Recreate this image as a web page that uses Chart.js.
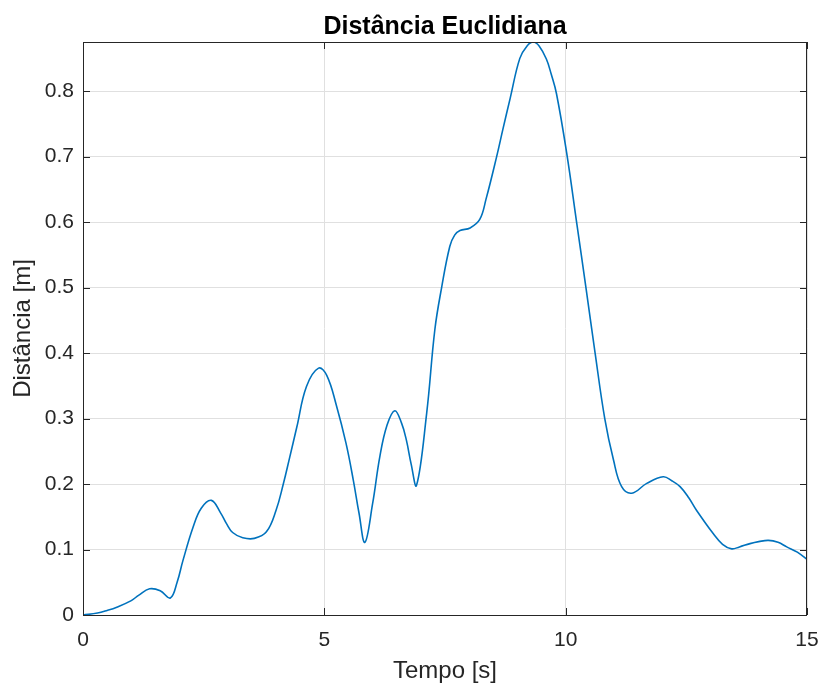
<!DOCTYPE html>
<html>
<head>
<meta charset="utf-8">
<script src="https://cdn.jsdelivr.net/npm/chart.js@4.4.1/dist/chart.umd.min.js"></script>
<style>
  html, body { margin: 0; padding: 0; background: #fff; }
  #wrap { width: 821px; height: 689px; }
</style>
</head>
<body>
<div id="wrap"><canvas id="dist_chart" width="821" height="689"></canvas></div>
<script>
// time samples [s]
const tempo = [0, 0.3, 0.5, 0.7, 1.0, 1.15, 1.38, 1.6, 1.81, 1.95, 2.07, 2.28, 2.45, 2.66, 2.85,
    2.97, 3.1, 3.31, 3.55, 3.8, 4.0, 4.15, 4.28, 4.43, 4.63, 4.88, 5.05, 5.25, 5.45, 5.6,
    5.72, 5.84, 6.0, 6.15, 6.3, 6.46, 6.6, 6.7, 6.8, 6.91, 7.12, 7.29, 7.43, 7.6, 7.7,
    7.81, 8.02, 8.22, 8.35, 8.57, 8.7, 8.85, 9.05, 9.2, 9.33, 9.45, 9.6, 9.7, 9.81, 10.02,
    10.23, 10.42, 10.61, 10.81, 10.99, 11.16, 11.37, 11.68, 12.02, 12.2, 12.37, 12.55, 12.71, 13.06, 13.25,
    13.44, 13.6, 13.82, 14.0, 14.2, 14.4, 14.58, 14.8, 15];
// euclidean distance [m]
const distancia = [0, 0.003, 0.007, 0.012, 0.022, 0.030, 0.040, 0.037, 0.026, 0.05, 0.083, 0.134, 0.163, 0.175, 0.156,
    0.140, 0.126, 0.118, 0.117, 0.127, 0.16, 0.20, 0.24, 0.287, 0.349, 0.377, 0.366, 0.320, 0.262, 0.206,
    0.155, 0.111, 0.17, 0.242, 0.29, 0.312, 0.293, 0.267, 0.23, 0.198, 0.308, 0.436, 0.5, 0.563, 0.58,
    0.587, 0.591, 0.604, 0.635, 0.700, 0.742, 0.789, 0.850, 0.869, 0.875, 0.869, 0.849, 0.826, 0.796, 0.706,
    0.598, 0.5, 0.4, 0.3, 0.237, 0.196, 0.186, 0.201, 0.211, 0.205, 0.196, 0.179, 0.160, 0.124, 0.108,
    0.101, 0.104, 0.109, 0.112, 0.114, 0.111, 0.104, 0.096, 0.085];

const xTicks = [0, 5, 10, 15];
const yMax = 0.875;

const fam = '"Liberation Sans", Arial, sans-serif';
const axisColor = '#262626';

// matlab style box with inward ticks
const boxPlugin = {
    id: 'box',
    afterDraw(chart) {
        const {ctx, chartArea: a, scales: {x, y}} = chart;
        ctx.save();
        ctx.strokeStyle = axisColor;
        ctx.lineWidth = 1;
        ctx.strokeRect(a.left + 0.5, a.top + 0.5, a.right - a.left - 1, a.bottom - a.top);
        const len = 7;
        ctx.beginPath();
        x.ticks.forEach(t => {
            const px = Math.round(x.getPixelForValue(t.value)) + 0.5;
            ctx.moveTo(px, a.bottom); ctx.lineTo(px, a.bottom - len);
            ctx.moveTo(px, a.top); ctx.lineTo(px, a.top + len);
        });
        y.ticks.forEach(t => {
            const py = Math.round(y.getPixelForValue(t.value)) + 0.5;
            ctx.moveTo(a.left, py); ctx.lineTo(a.left + len, py);
            ctx.moveTo(a.right, py); ctx.lineTo(a.right - len, py);
        });
        ctx.stroke();
        ctx.restore();
    }
};

const ctx = document.getElementById('dist_chart').getContext('2d');
const dist_chart = new Chart(ctx, {
    type: 'line',
    data: {
        datasets: [{
            label: 'Distância',
            data: tempo.map((t, i) => ({x: t, y: distancia[i]})),
            borderColor: '#0072BD',
            borderWidth: 1.6,
            pointRadius: 0,
            tension: 0.4,
            capBezierPoints: false,
            fill: false
        }]
    },
    options: {
        responsive: false,
        animation: false,
        layout: {
            padding: {top: 0, right: 14, bottom: 0, left: 0}
        },
        plugins: {
            legend: {display: false},
            tooltip: {enabled: false},
            title: {
                display: true,
                text: 'Distância Euclidiana',
                fullSize: false,
                color: '#000',
                font: {family: fam, size: 25, weight: 'bold', lineHeight: 1.2},
                padding: {top: 12, bottom: 0}
            }
        },
        scales: {
            x: {
                type: 'linear',
                min: 0,
                max: 15,
                afterBuildTicks: s => { s.ticks = xTicks.map(v => ({value: v})); },
                afterFit: s => { s.height = 74; s.paddingLeft = 0; s.paddingRight = 0; },
                grid: {color: '#e0e0e0', drawTicks: false},
                border: {display: false},
                ticks: {color: axisColor, font: {family: fam, size: 21}, padding: 13, maxRotation: 0},
                title: {
                    display: true,
                    text: 'Tempo [s]',
                    color: axisColor,
                    font: {family: fam, size: 24, lineHeight: 1.2},
                    padding: {top: 0, bottom: 3}
                }
            },
            y: {
                type: 'linear',
                min: 0,
                max: yMax,
                afterFit: s => { s.width = 83; s.paddingTop = 0; s.paddingBottom = 0; },
                grid: {color: '#e0e0e0', drawTicks: false},
                border: {display: false},
                ticks: {
                    color: axisColor,
                    font: {family: fam, size: 21},
                    padding: 9,
                    stepSize: 0.1,
                    includeBounds: false,
                    callback: v => String(Math.round(v * 10) / 10)
                },
                title: {
                    display: true,
                    text: 'Distância [m]',
                    color: axisColor,
                    font: {family: fam, size: 24, lineHeight: 1.2},
                    padding: {top: 9, bottom: 0}
                }
            }
        }
    },
    plugins: [boxPlugin]
});
</script>
</body>
</html>
